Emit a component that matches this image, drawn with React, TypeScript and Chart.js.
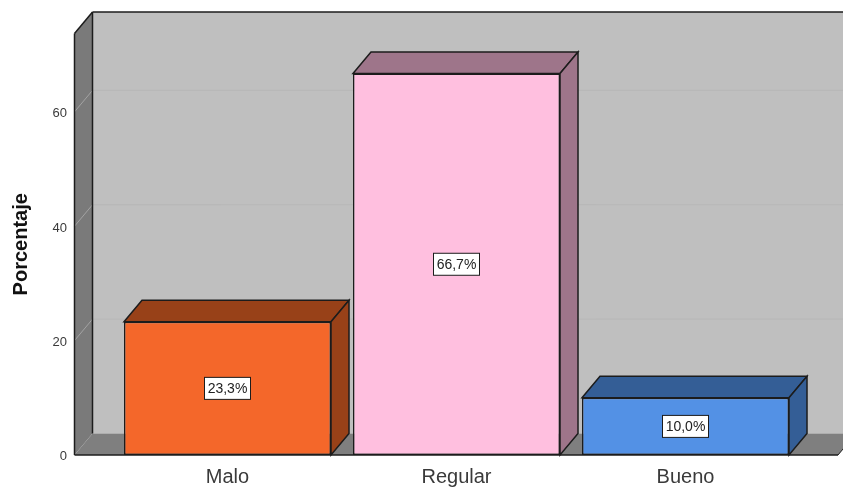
import React, { useEffect, useRef } from "react";
import { Chart, registerables } from "chart.js";

Chart.register(...registerables);

const categories = ["Malo", "Regular", "Bueno"];
const percentages = [23.3, 66.7, 10.0];
const yTicks = [0, 20, 40, 60];
const yMax = 73.7;
const yTitle = "Porcentaje";
const frontColors = ["#F4672A", "#FFBFDF", "#5391E5"];
const darkColors = ["#984118", "#9E758A", "#345E96"];

const DEPTH_X = 18;
const DEPTH_Y = -21.5;
const LINE = "#1c1c1c";
const FONT = "'Liberation Sans', Arial, sans-serif";

type Pt = [number, number];

function poly(ctx: CanvasRenderingContext2D, pts: Pt[], fill: string, stroke?: string, lw = 1.5) {
  ctx.beginPath();
  pts.forEach(([x, y], i) => (i ? ctx.lineTo(x, y) : ctx.moveTo(x, y)));
  ctx.closePath();
  ctx.fillStyle = fill;
  ctx.fill();
  if (stroke) {
    ctx.strokeStyle = stroke;
    ctx.lineWidth = lw;
    ctx.stroke();
  }
}

function line(ctx: CanvasRenderingContext2D, a: Pt, b: Pt, color: string, lw: number) {
  ctx.beginPath();
  ctx.moveTo(a[0], a[1]);
  ctx.lineTo(b[0], b[1]);
  ctx.strokeStyle = color;
  ctx.lineWidth = lw;
  ctx.stroke();
}

const box3d = {
  id: "box3d",
  afterUpdate(chart: any) {
    // the reference's tick labels sit slightly lower than the canvas "middle" baseline
    chart.scales.y.getLabelItems().forEach((item: any) => {
      item.textOffset += 1.8;
    });
  },
  beforeDatasetsDraw(chart: any) {
    const { ctx, chartArea, scales } = chart;
    const y = scales.y;
    const top = chartArea.top;
    const bottom = chartArea.bottom;
    const left = 74.5;
    const right = 838;
    const bx = left + DEPTH_X;
    ctx.save();
    // back wall
    poly(ctx, [[bx, top + DEPTH_Y], [right + DEPTH_X, top + DEPTH_Y], [right + DEPTH_X, bottom + DEPTH_Y], [bx, bottom + DEPTH_Y]], "#BFBFBF");
    // floor
    poly(ctx, [[left, bottom], [bx, bottom + DEPTH_Y], [right + DEPTH_X, bottom + DEPTH_Y], [right, bottom]], "#7F7F7F");
    // left wall
    poly(ctx, [[left, top], [bx, top + DEPTH_Y], [bx, bottom + DEPTH_Y], [left, bottom]], "#7A7A7A");
    // gridlines
    yTicks.forEach((v) => {
      if (v === 0) return;
      const py = y.getPixelForValue(v);
      line(ctx, [left, py], [bx, py + DEPTH_Y], "#A3A3A3", 1);
      line(ctx, [bx, py + DEPTH_Y], [right + DEPTH_X, py + DEPTH_Y], "#B7B7B7", 1);
    });
    // wall edges
    line(ctx, [left, bottom], [left, top], LINE, 1.5);
    line(ctx, [left, top], [bx, top + DEPTH_Y], LINE, 1.5);
    line(ctx, [bx, top + DEPTH_Y], [right + DEPTH_X, top + DEPTH_Y], LINE, 1.5);
    line(ctx, [bx, top + DEPTH_Y], [bx, bottom + DEPTH_Y], LINE, 1.5);
    line(ctx, [left, bottom], [right, bottom], LINE, 1.5);
    line(ctx, [right, bottom], [right + DEPTH_X, bottom + DEPTH_Y], LINE, 1);
    ctx.restore();
  },
  afterDatasetsDraw(chart: any) {
    const { ctx } = chart;
    const meta = chart.getDatasetMeta(0);
    ctx.save();
    meta.data.forEach((bar: any, i: number) => {
      const l = bar.x - bar.width / 2;
      const r = bar.x + bar.width / 2;
      const t = bar.y;
      const b = bar.base;
      poly(ctx, [[l, t], [l + DEPTH_X, t + DEPTH_Y], [r + DEPTH_X, t + DEPTH_Y], [r, t]], darkColors[i], LINE, 1.5);
      poly(ctx, [[r, t], [r + DEPTH_X, t + DEPTH_Y], [r + DEPTH_X, b + DEPTH_Y], [r, b]], darkColors[i], LINE, 1.5);
      // label box
      const text = percentages[i].toFixed(1).replace(".", ",") + "%";
      ctx.font = `14px ${FONT}`;
      const w = 46;
      const h = 22;
      const cy = (t + b) / 2;
      ctx.fillStyle = "#FFFFFF";
      ctx.fillRect(bar.x - w / 2, cy - h / 2, w, h);
      ctx.strokeStyle = LINE;
      ctx.lineWidth = 1;
      ctx.strokeRect(bar.x - w / 2, cy - h / 2, w, h);
      ctx.fillStyle = "#222222";
      ctx.textAlign = "center";
      ctx.textBaseline = "middle";
      ctx.fillText(text, bar.x, cy + 1);
    });
    ctx.restore();
  },
};

export default function App() {
  const ref = useRef<HTMLCanvasElement>(null);
  useEffect(() => {
    if (!ref.current) return;
    const chart = new Chart(ref.current, {
      type: "bar",
      data: {
        labels: categories,
        datasets: [
          {
            data: percentages,
            backgroundColor: frontColors,
            borderColor: LINE,
            borderWidth: 1.5,
            borderSkipped: false,
            barPercentage: 0.904,
            categoryPercentage: 1,
          },
        ],
      },
      options: {
        responsive: false,
        animation: false,
        devicePixelRatio: 1,
        layout: { padding: { top: 33.5, right: 43, bottom: 0, left: 0 } },
        plugins: { legend: { display: false }, tooltip: { enabled: false } },
        scales: {
          x: {
            grid: { display: false, drawTicks: false },
            border: { display: false },
            ticks: {
              color: "#3a3a3a",
              font: { family: FONT, size: 20 },
              padding: 10,
              maxRotation: 0,
              autoSkip: false,
            },
            afterFit: (s: any) => {
              s.height = 34;
            },
          },
          y: {
            min: 0,
            max: yMax,
            grid: { display: false, drawTicks: false },
            border: { display: false },
            title: {
              display: true,
              text: yTitle,
              color: "#111111",
              font: { family: FONT, size: 20, weight: "bold" },
              padding: { top: 9, bottom: 0 },
            },
            ticks: {
              color: "#3a3a3a",
              font: { family: FONT, size: 13 },
              padding: 46,
              stepSize: 20,
              includeBounds: false,
            },
            afterFit: (s: any) => {
              s.width = 113;
              s.paddingTop = 0;
              s.paddingBottom = 0;
            },
          },
        },
      },
      plugins: [box3d],
    } as any);
    return () => chart.destroy();
  }, []);
  return (
    <div style={{ position: "absolute", left: 0, top: 0, width: 843, height: 489, background: "#fff", overflow: "hidden" }}>
      <canvas ref={ref} width={843} height={489} style={{ display: "block" }} />
    </div>
  );
}
